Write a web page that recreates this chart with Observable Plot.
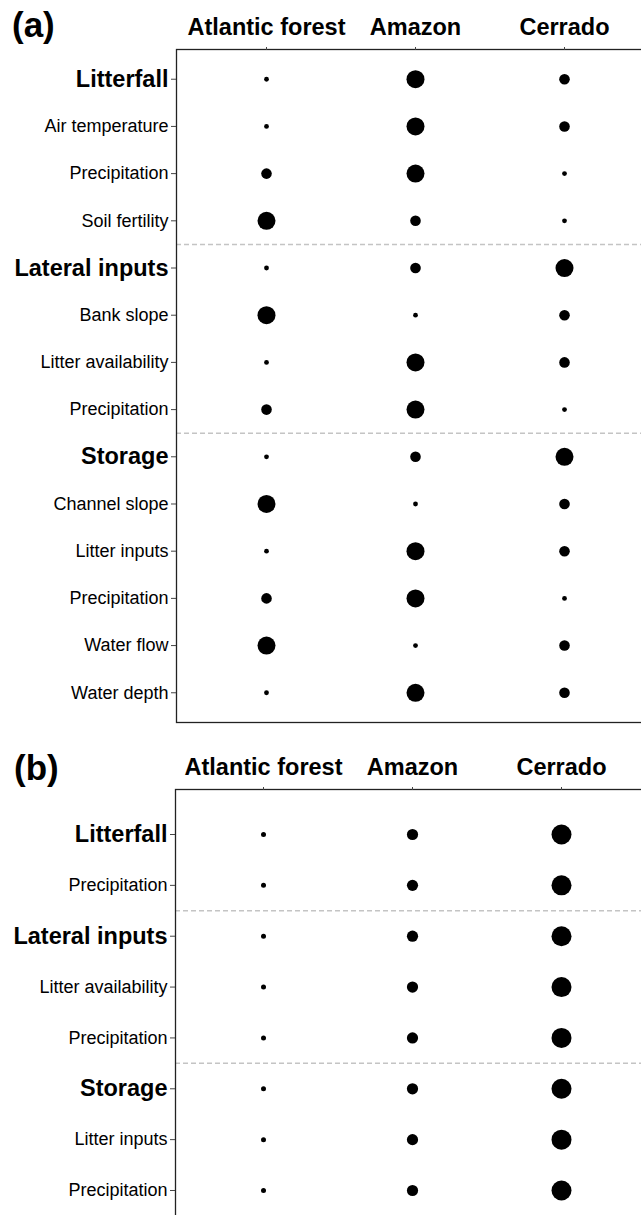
<!DOCTYPE html>
<html>
<head>
<meta charset="utf-8">
<script src="https://cdn.jsdelivr.net/npm/d3@7"></script>
<script src="https://cdn.jsdelivr.net/npm/@observablehq/plot@0.6"></script>
<style>
  html, body { margin: 0; padding: 0; background: #fff; overflow: hidden; }
  #wrap { position: relative; width: 641px; height: 1215px; overflow: hidden; font-family: "Liberation Sans", Arial, sans-serif; }
  .tag { position: absolute; font-weight: bold; font-size: 35px; line-height: 35px; color: #000; }
  .plot { position: absolute; left: 0; max-width: none !important; }
</style>
</head>
<body>
<div id="wrap">
  <div class="tag" id="tagA" style="left:12px; top:7px;">(a)</div>
  <div class="tag" id="tagB" style="left:14px; top:750px;">(b)</div>
</div>
<script>
// ---------- data ----------
const biomes = ["Atlantic forest", "Amazon", "Cerrado"];
const responseVars = ["Litterfall", "Lateral inputs", "Storage"];

// Panel (a)
const rowsA = ["Litterfall", "Air temperature", "Precipitation", "Soil fertility",
               "Lateral inputs", "Bank slope", "Litter availability", "Precipitation",
               "Storage", "Channel slope", "Litter inputs", "Precipitation", "Water flow", "Water depth"];
const atlanticA = [1, 1, 2, 3, 1, 3, 1, 2, 1, 3, 1, 2, 3, 1];
const amazonA   = [3, 3, 3, 2, 2, 1, 3, 3, 2, 1, 3, 3, 1, 3];
const cerradoA  = [2, 2, 1, 1, 3, 2, 2, 1, 3, 2, 2, 1, 2, 2];

// Panel (b)
const rowsB = ["Litterfall", "Precipitation", "Lateral inputs", "Litter availability",
               "Precipitation", "Storage", "Litter inputs", "Precipitation"];
const atlanticB = [1, 1, 1, 1, 1, 1, 1, 1];
const amazonB   = [2, 2, 2, 2, 2, 2, 2, 2];
const cerradoB  = [3, 3, 3, 3, 3, 3, 3, 3];

// ---------- drawing ----------
function panel({rows, series, width, height, marginLeft, marginBottom, xPadding, yPad, rRange}) {
  const data = rows.flatMap((row, i) => biomes.map((b, j) => ({i, biome: b, v: series[j][i]})));
  const idx = rows.map((_, i) => i);
  const hdr = idx.filter(i => responseVars.includes(rows[i]));
  const reg = idx.filter(i => !responseVars.includes(rows[i]));
  const seps = hdr.filter(i => i > 0).map(i => i - 0.5);
  return Plot.plot({
    width, height,
    marginLeft, marginRight: 0, marginTop: 49, marginBottom,
    style: {fontFamily: "'Liberation Sans', Arial, sans-serif", background: "transparent", color: "#000", overflow: "visible", maxWidth: "none"},
    x: {type: "point", domain: biomes, padding: xPadding, axis: null},
    y: {domain: [-yPad, rows.length - 1 + yPad], reverse: true, axis: null},
    r: {type: "linear", domain: [1, 2, 3], range: rRange},
    marks: [
      Plot.ruleY(seps, {stroke: "#c4c4c4", strokeWidth: 1.5, strokeDasharray: "5,3"}),
      Plot.frame({stroke: "#222", strokeWidth: 1.3}),
      Plot.axisX({anchor: "top", tickSize: 3, tickPadding: 12, fontSize: 23.5, fontWeight: "bold", label: null, stroke: "#444"}),
      Plot.axisY(reg, {anchor: "left", tickSize: 5, tickPadding: 3, fontSize: 18, tickFormat: i => rows[i], label: null, stroke: "#444"}),
      Plot.axisY(hdr, {anchor: "left", tickSize: 5, tickPadding: 3, fontSize: 23.5, fontWeight: "bold", tickFormat: i => rows[i], label: null, stroke: "#444"}),
      Plot.dot(data, {x: "biome", y: "i", r: "v", fill: "#000", stroke: null})
    ]
  });
}

const wrap = document.getElementById("wrap");

const pa = panel({
  rows: rowsA, series: [atlanticA, amazonA, cerradoA],
  width: 654, height: 730, marginLeft: 176, marginBottom: 8,
  xPadding: 0.604, yPad: 0.63, rRange: [2.4, 5.3, 9]
});
pa.classList.add("plot");
pa.style.top = "0px";
pa.style.maxWidth = "none";
wrap.appendChild(pa);

const pb = panel({
  rows: rowsB, series: [atlanticB, amazonB, cerradoB],
  width: 649, height: 505, marginLeft: 175, marginBottom: 10,
  xPadding: 0.59, yPad: 0.885, rRange: [2.5, 5.6, 10]
});
pb.classList.add("plot");
pb.style.top = "740px";
pb.style.maxWidth = "none";
wrap.appendChild(pb);
</script>
</body>
</html>
